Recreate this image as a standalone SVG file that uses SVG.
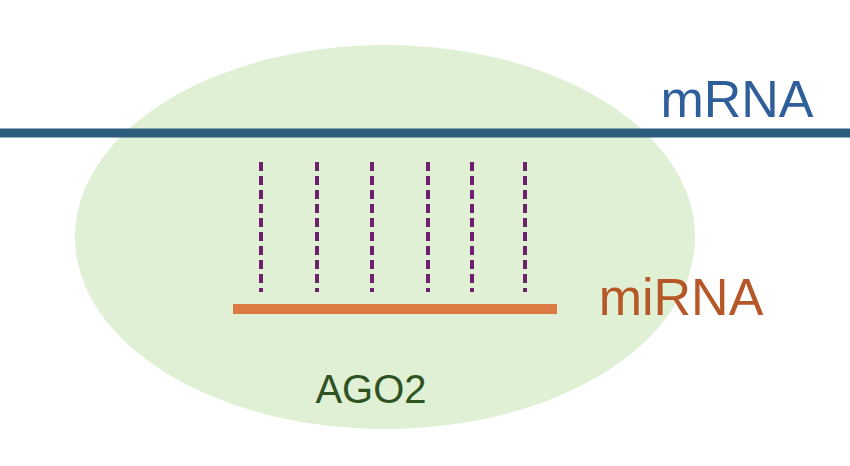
<svg xmlns="http://www.w3.org/2000/svg" width="850" height="466" viewBox="0 0 850 466">
<style>
.d{stroke:#6e1f6e;stroke-width:4;stroke-dasharray:9 5}
.t{font-family:"Liberation Sans",Arial,sans-serif}
</style>
<rect width="850" height="466" fill="#fff"/>
<g id="ago2"><ellipse cx="385" cy="237" rx="310" ry="192" fill="#dff0d5"/>
<text class="t" x="371" y="403" font-size="40" fill="#2f5222" text-anchor="middle">AGO2</text></g>
<g id="connectors">
<line class="d" x1="261" y1="162" x2="261" y2="292"/>
<line class="d" x1="317" y1="162" x2="317" y2="292"/>
<line class="d" x1="372" y1="162" x2="372" y2="292"/>
<line class="d" x1="428" y1="162" x2="428" y2="292"/>
<line class="d" x1="472" y1="162" x2="472" y2="292"/>
<line class="d" x1="525" y1="162" x2="525" y2="292"/>
</g>
<g id="mrna"><line x1="0" y1="133" x2="850" y2="133" stroke="#2e5c7c" stroke-width="9"/>
<text class="t" x="737" y="117" font-size="52" fill="#2f5f9b" text-anchor="middle">mRNA</text></g>
<g id="mirna"><line x1="233" y1="309" x2="557" y2="309" stroke="#dc7a44" stroke-width="10"/>
<text class="t" x="681" y="315" font-size="52" fill="#b55727" text-anchor="middle">miRNA</text></g>
</svg>
